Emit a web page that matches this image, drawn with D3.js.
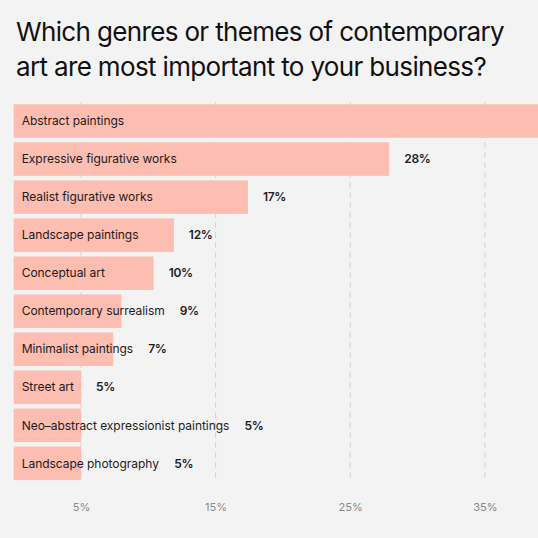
<!DOCTYPE html>
<html>
<head>
<meta charset="utf-8">
<script src="https://cdn.jsdelivr.net/npm/d3@7"></script>
<style>
  html, body { margin: 0; padding: 0; background: #f4f3f4; }
  svg { display: block; font-family: Inter, "Noto Sans", sans-serif; }
</style>
</head>
<body>
<svg width="538" height="538"></svg>
<script>
// survey answers, share of respondents (bar length)
const categories = [
  'Abstract paintings',
  'Expressive figurative works',
  'Realist figurative works',
  'Landscape paintings',
  'Conceptual art',
  'Contemporary surrealism',
  'Minimalist paintings',
  'Street art',
  'Neo–abstract expressionist paintings',
  'Landscape photography',
];
const values = [42, 27.9, 17.4, 11.9, 10.4, 8, 7.4, 5, 5, 5];
// printed labels next to bars (the top one runs off the picture, no label shown)
const valueLabels = ['', '28%', '17%', '12%', '10%', '9%', '7%', '5%', '5%', '5%'];
const ticks = [5, 15, 25, 35];
const titleLines = [
  'Which genres or themes of contemporary',
  'art are most important to your business?',
];

const config = {
  bg: '#f4f3f4',
  barFill: '#fdbdb1',
  grid: '#d4d2d4',
  text: '#1c1c1c',
  tickText: '#8a888a',
};

const svg = d3.select('svg');
svg.append('rect')
  .attr('width', 538)
  .attr('height', 538)
  .attr('fill', config.bg);

// title
svg.append('g')
  .selectAll('text')
  .data(titleLines)
  .enter()
  .append('text')
  .attr('x', 16)
  .attr('y', (d, i) => 41 + i * 35)
  .attr('font-size', 26)
  .attr('letter-spacing', -0.65)
  .attr('fill', '#111')
  .text(d => d);

const x = d3.scaleLinear().domain([0, 30]).range([13.7, 13.7 + 30 * 13.46]);
const y = d3.scaleBand()
  .domain(categories)
  .range([102, 482.4])
  .paddingInner(0.119)
  .paddingOuter(0.06);

// dashed gridlines behind the bars
svg.append('g')
  .selectAll('line')
  .data(ticks)
  .enter()
  .append('line')
  .attr('x1', d => x(d))
  .attr('x2', d => x(d))
  .attr('y1', 102)
  .attr('y2', 482)
  .attr('stroke', config.grid)
  .attr('stroke-width', 1)
  .attr('stroke-dasharray', '6,4');

const rows = categories.map((c, i) => ({cat: c, v: values[i], label: valueLabels[i]}));

svg.append('g')
  .selectAll('rect')
  .data(rows)
  .enter()
  .append('rect')
  .attr('x', x(0))
  .attr('y', d => y(d.cat))
  .attr('width', d => x(d.v) - x(0))
  .attr('height', y.bandwidth())
  .attr('fill', config.barFill);

const catText = svg.append('g')
  .selectAll('text')
  .data(rows)
  .enter()
  .append('text')
  .attr('x', x(0) + 8)
  .attr('y', d => y(d.cat) + y.bandwidth() / 2)
  .attr('dy', '0.35em')
  .attr('font-size', 12)
  .attr('letter-spacing', -0.04)
  .attr('fill', config.text)
  .text(d => d.cat);

// value label sits after whichever ends later: bar or category name
const ends = catText.nodes().map(n => n.getBBox().x + n.getBBox().width);
svg.append('g')
  .selectAll('text')
  .data(rows.map((d, i) => Object.assign({end: ends[i]}, d)).filter(d => d.label))
  .enter()
  .append('text')
  .attr('x', d => Math.max(x(d.v), d.end) + 15)
  .attr('y', d => y(d.cat) + y.bandwidth() / 2)
  .attr('dy', '0.35em')
  .attr('font-size', 12)
  .attr('font-weight', 600)
  .attr('letter-spacing', -0.3)
  .attr('fill', config.text)
  .text(d => d.label);

// bottom axis, labels only
const axis = svg.append('g')
  .attr('transform', 'translate(0,500)')
  .call(d3.axisBottom(x).tickValues(ticks).tickFormat(d => d + '%').tickSize(0));
axis.select('.domain').remove();
axis.selectAll('text')
  .attr('font-family', 'Inter, "Noto Sans", sans-serif')
  .attr('font-size', 11)
  .attr('fill', config.tickText);
</script>
</body>
</html>
